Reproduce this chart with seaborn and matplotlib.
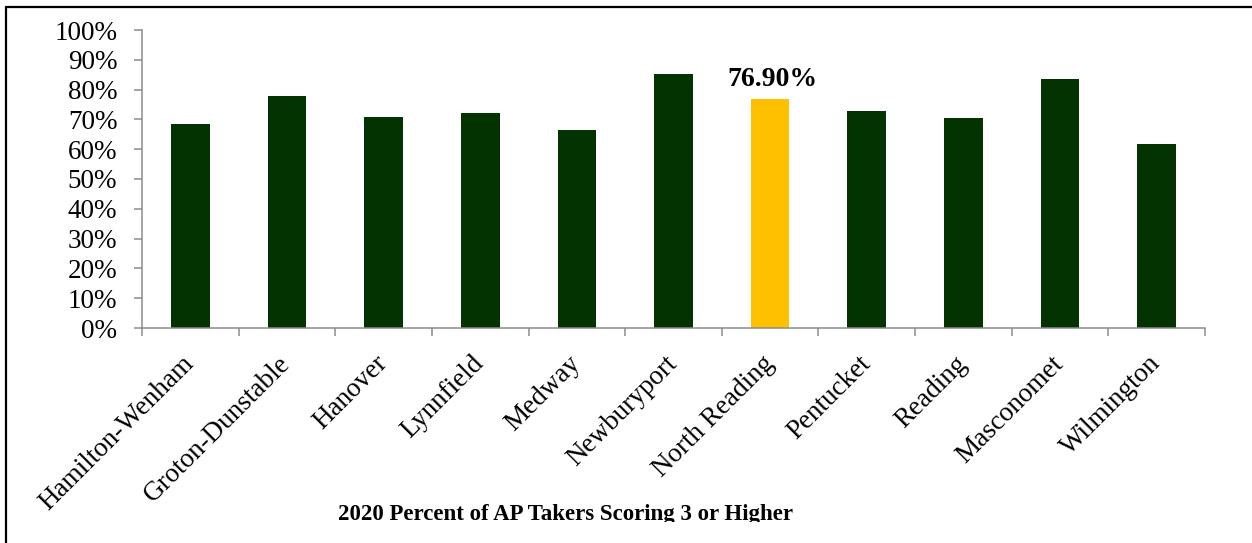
import numpy as np
import matplotlib
matplotlib.use("Agg")
import matplotlib.pyplot as plt
from matplotlib.ticker import PercentFormatter
from matplotlib.lines import Line2D
from matplotlib.transforms import Bbox, TransformedBbox
import seaborn as sns

# Share of AP test takers scoring 3 or higher, 2020
schools = ["Hamilton-Wenham", "Groton-Dunstable", "Hanover", "Lynnfield", "Medway",
           "Newburyport", "North Reading", "Pentucket", "Reading", "Masconomet",
           "Wilmington"]
pct_3_plus = [0.683, 0.780, 0.709, 0.723, 0.664, 0.852, 0.769, 0.727, 0.706, 0.835, 0.616]
highlight = "North Reading"

GREEN = "#023300"
GOLD = "#FFC000"
AXIS_GRAY = "#8C8C8C"

sns.set_theme(style="white")
plt.rcParams["font.family"] = ["Liberation Serif", "DejaVu Serif"]

fig = plt.figure(figsize=(12.52, 5.43), dpi=100)
ax = fig.add_axes([142 / 1252, 1 - 328 / 543, (1205 - 142) / 1252, (328 - 30) / 543])

palette = {s: (GOLD if s == highlight else GREEN) for s in schools}
sns.barplot(x=schools, y=pct_3_plus, hue=schools, palette=palette, legend=False,
            width=0.4, saturation=1, ax=ax, edgecolor="none")

ax.set_ylim(0, 1.0)
ax.set_xlim(-0.5, len(schools) - 0.5)
ax.set_yticks(np.arange(0, 1.01, 0.1))
ax.yaxis.set_major_formatter(PercentFormatter(1.0, decimals=0))

# category labels centred under bars, tick marks at category boundaries
ax.set_xticks(np.arange(len(schools)))
ax.set_xticklabels(schools, rotation=45, ha="right", va="center",
                   rotation_mode="anchor")
ax.set_xticks(np.arange(-0.5, len(schools)), minor=True)
ax.tick_params(axis="x", which="major", length=0, pad=23, labelsize=19.5, colors="black")
ax.tick_params(axis="x", which="minor", length=5.5, width=1.1, color=AXIS_GRAY,
               direction="out", bottom=True)
ax.tick_params(axis="y", length=5.8, width=1.1, color=AXIS_GRAY, direction="out",
               pad=12, labelsize=19.5, left=True, labelcolor="black")

for side in ("top", "right"):
    ax.spines[side].set_visible(False)
for side in ("left", "bottom"):
    ax.spines[side].set_color(AXIS_GRAY)
    ax.spines[side].set_linewidth(1.1)

ax.set_xlabel("")
ax.set_ylabel("")

# value label on the highlighted school
idx = schools.index(highlight)
ax.annotate(f"{pct_3_plus[idx] * 100:.2f}%", xy=(idx, pct_3_plus[idx]),
            xytext=(2, 5), textcoords="offset points", ha="center", va="bottom",
            fontsize=20, fontweight="bold", color="black")

title = fig.text(565 / 1252, 1 - 520 / 543, "2020 Percent of AP Takers Scoring 3 or Higher",
                 ha="center", va="baseline", fontsize=16.5, fontweight="bold",
                 color="black")
title.set_clip_box(TransformedBbox(Bbox([[0, 1 - 522 / 543], [1, 1]]), fig.transFigure))
title.set_clip_on(True)

# outer frame of the chart area
fig.add_artist(Line2D([5.7 / 1252, 5.7 / 1252], [0, 1 - 7 / 543],
                      transform=fig.transFigure, color="black", lw=1.6))
fig.add_artist(Line2D([5.7 / 1252, 1], [1 - 7 / 543, 1 - 7 / 543],
                      transform=fig.transFigure, color="black", lw=1.6))

fig.savefig("out.png", dpi=100, facecolor="white")
